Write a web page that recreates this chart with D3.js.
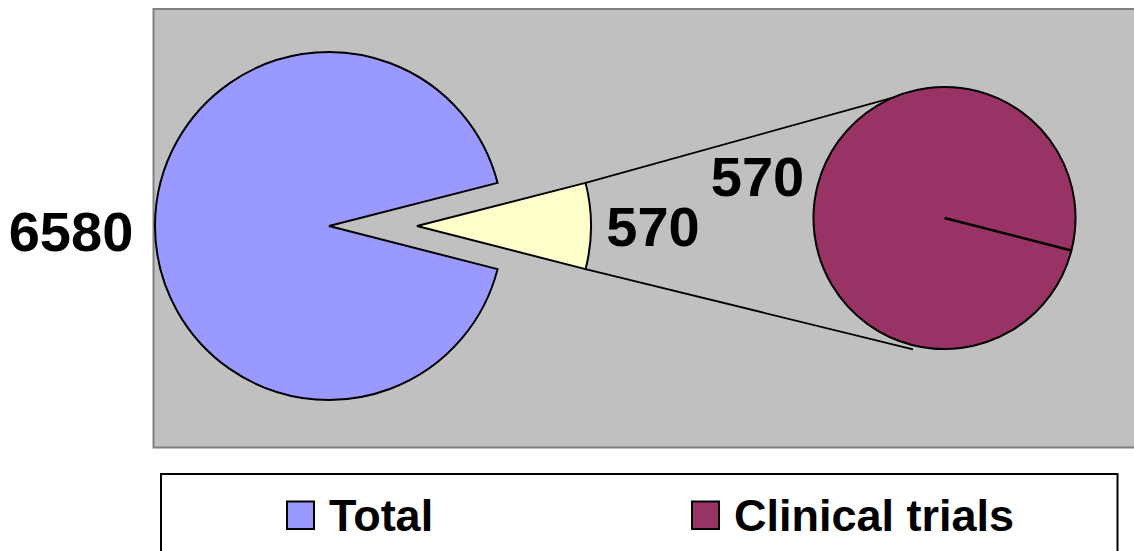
<!DOCTYPE html>
<html>
<head>
<meta charset="utf-8">
<script src="https://cdn.jsdelivr.net/npm/d3@7"></script>
<style>
  html, body { margin: 0; padding: 0; background: #ffffff; }
  svg { display: block; }
  text { font-family: "Liberation Sans", Arial, sans-serif; font-weight: bold; fill: #000; }
</style>
</head>
<body>
<svg id="chart" width="1134" height="551"></svg>
<script>
// Main pie: the total and the part broken out into the second pie
const mainLabels = ["Total", "Clinical trials"];
const mainValues = [6580, 570];
// Second pie: breakdown of the broken-out part
const subLabels = ["Clinical trials"];
const subValues = [570];
const colors = ["#9999FF", "#FFFFCC", "#993366"];
const legendLabels = ["Total", "Clinical trials"];
const legendColors = ["#9999FF", "#993366"];

const svg = d3.select("#chart");

// Plot area background
svg.append("rect")
  .attr("x", 153.5).attr("y", 9)
  .attr("width", 1000).attr("height", 438.5)
  .attr("fill", "#C0C0C0")
  .attr("stroke", "#808080").attr("stroke-width", 2);

const total = d3.sum(mainValues);
const splitAngle = 2 * Math.PI * mainValues[1] / total;

// Main pie: broken-out slice is centred on the 3 o'clock direction
const mainCx = 329, mainCy = 226, mainR = 174, explode = 88;
const mainPie = d3.pie().sort(null).value(d => d.v)
  .startAngle(Math.PI / 2 - splitAngle / 2)
  .endAngle(Math.PI / 2 - splitAngle / 2 + 2 * Math.PI);
const mainData = [
  { name: mainLabels[1], v: mainValues[1], color: colors[1], off: explode },
  { name: mainLabels[0], v: mainValues[0], color: colors[0], off: 0 }
];
const mainArcs = mainPie(mainData);
const arcMain = d3.arc().innerRadius(0).outerRadius(mainR);

const gMain = svg.append("g").attr("transform", `translate(${mainCx},${mainCy})`);
gMain.selectAll("path")
  .data(mainArcs)
  .join("path")
  .attr("transform", d => {
    const mid = (d.startAngle + d.endAngle) / 2;
    return `translate(${Math.sin(mid) * d.data.off},${-Math.cos(mid) * d.data.off})`;
  })
  .attr("d", arcMain)
  .attr("fill", d => d.data.color)
  .attr("stroke", "#000").attr("stroke-width", 2)
  .attr("stroke-linejoin", "miter");

// Second pie
const subCx = 944.5, subCy = 218, subR = 131;
const subStart = Math.PI / 2 + splitAngle / 2;
const subPie = d3.pie().sort(null)
  .startAngle(subStart).endAngle(subStart + 2 * Math.PI);
const subArcs = subPie(subValues);
const arcSub = d3.arc().innerRadius(0).outerRadius(subR);

// Connector lines from the broken-out slice to the second pie
const slice = mainArcs[0];
const sliceCx = mainCx + Math.sin(Math.PI / 2) * explode;
const cornerTop = [sliceCx + Math.sin(slice.startAngle) * mainR, mainCy - Math.cos(slice.startAngle) * mainR];
const cornerBot = [sliceCx + Math.sin(slice.endAngle) * mainR, mainCy - Math.cos(slice.endAngle) * mainR];
const topAng = -0.405, botAng = Math.PI + 0.235;
const endTop = [subCx + Math.sin(topAng) * subR, subCy - Math.cos(topAng) * subR];
const endBot = [subCx + Math.sin(botAng) * (subR + 4), subCy - Math.cos(botAng) * (subR + 4)];
svg.append("line")
  .attr("x1", cornerTop[0]).attr("y1", cornerTop[1])
  .attr("x2", endTop[0]).attr("y2", endTop[1])
  .attr("stroke", "#000").attr("stroke-width", 1.8);
svg.append("line")
  .attr("x1", cornerBot[0]).attr("y1", cornerBot[1])
  .attr("x2", endBot[0]).attr("y2", endBot[1])
  .attr("stroke", "#000").attr("stroke-width", 1.8);

const gSub = svg.append("g").attr("transform", `translate(${subCx},${subCy})`);
gSub.selectAll("path")
  .data(subArcs)
  .join("path")
  .attr("d", arcSub)
  .attr("fill", colors[2])
  .attr("stroke", "#000").attr("stroke-width", 2);
// Slice boundary of the single-slice pie
gSub.selectAll("line.edge")
  .data(subArcs)
  .join("line")
  .attr("class", "edge")
  .attr("x1", 0).attr("y1", 0)
  .attr("x2", d => Math.sin(d.startAngle) * subR)
  .attr("y2", d => -Math.cos(d.startAngle) * subR)
  .attr("stroke", "#000").attr("stroke-width", 2.5);

// Data labels
const labelSize = 56;
svg.append("text")
  .attr("x", 71).attr("y", 251)
  .attr("text-anchor", "middle")
  .attr("font-size", labelSize)
  .text(mainValues[0]);
svg.append("text")
  .attr("x", 653).attr("y", 246)
  .attr("text-anchor", "middle")
  .attr("font-size", labelSize)
  .text(mainValues[1]);
svg.append("text")
  .attr("x", 757.5).attr("y", 196)
  .attr("text-anchor", "middle")
  .attr("font-size", labelSize)
  .text(subValues[0]);

// Legend
svg.append("rect")
  .attr("x", 161).attr("y", 474)
  .attr("width", 956.5).attr("height", 100)
  .attr("fill", "#ffffff")
  .attr("stroke", "#000").attr("stroke-width", 2);

const legendX = [287, 692];
const lg = svg.selectAll("g.legend-item")
  .data(legendLabels)
  .join("g")
  .attr("class", "legend-item")
  .attr("transform", (d, i) => `translate(${legendX[i]},0)`);
lg.append("rect")
  .attr("x", 0).attr("y", 501.5)
  .attr("width", 27).attr("height", 27.5)
  .attr("fill", (d, i) => legendColors[i])
  .attr("stroke", "#000").attr("stroke-width", 2);
lg.append("text")
  .attr("x", 42).attr("y", 531)
  .attr("font-size", 45)
  .text(d => d);
</script>
</body>
</html>
